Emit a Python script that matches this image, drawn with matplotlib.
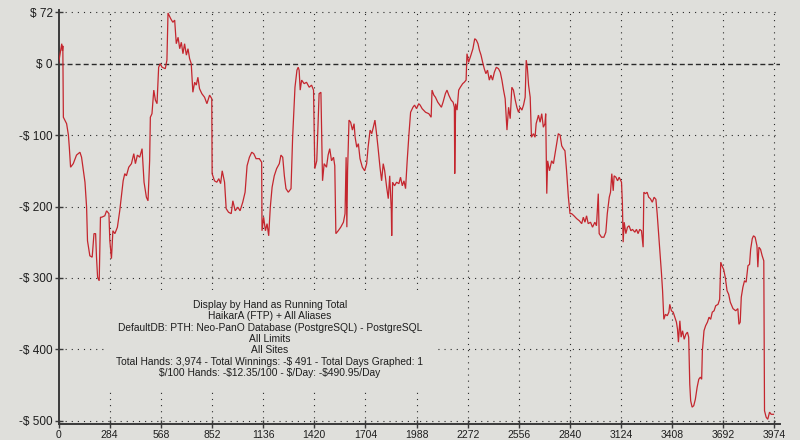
import matplotlib
matplotlib.use("Agg")
import matplotlib.pyplot as plt
from matplotlib.patches import Rectangle

# ---- data ----
hands = [0, 18, 22, 24, 27, 45, 55, 60, 67, 82, 100, 119, 128, 147, 156, 161, 174, 187, 197, 206,
         211, 217, 226, 233, 240, 257, 267, 280, 285, 294, 302, 313, 327, 340, 359, 368, 377, 390, 405, 418,
         427, 438, 451, 464, 475, 488, 497, 506, 510, 519, 529, 538, 547, 556, 565, 575, 593, 602, 608, 623,
         635, 645, 654, 664, 673, 682, 691, 700, 710, 719, 728, 737, 746, 756, 765, 774, 783, 796, 811, 824,
         839, 851, 853, 866, 879, 890, 900, 909, 922, 931, 944, 959, 968, 981, 996, 1008, 1023, 1036, 1047, 1060,
         1073, 1084, 1097, 1115, 1128, 1130, 1139, 1149, 1158, 1167, 1176, 1186, 1198, 1211, 1226, 1235, 1245, 1254, 1263, 1276,
         1291, 1300, 1313, 1324, 1331, 1336, 1342, 1350, 1364, 1377, 1392, 1405, 1416, 1423, 1434, 1447, 1457, 1466, 1475, 1488,
         1497, 1506, 1516, 1527, 1534, 1540, 1553, 1567, 1582, 1591, 1597, 1601, 1605, 1613, 1622, 1632, 1641, 1647, 1656, 1665,
         1674, 1687, 1700, 1711, 1719, 1730, 1739, 1748, 1757, 1765, 1774, 1785, 1794, 1803, 1811, 1822, 1831, 1839, 1848, 1850,
         1855, 1866, 1877, 1890, 1899, 1909, 1918, 1927, 1936, 1946, 1955, 1968, 1977, 1988, 2000, 2008, 2019, 2038, 2056, 2069,
         2074, 2084, 2093, 2106, 2117, 2126, 2135, 2148, 2157, 2167, 2180, 2191, 2198, 2200, 2205, 2213, 2222, 2231, 2244, 2253,
         2263, 2268, 2277, 2290, 2301, 2311, 2320, 2329, 2337, 2346, 2355, 2364, 2373, 2382, 2392, 2401, 2410, 2420, 2431, 2443,
         2453, 2462, 2471, 2480, 2490, 2499, 2508, 2517, 2526, 2536, 2545, 2554, 2563, 2573, 2582, 2591, 2597, 2603, 2610, 2619,
         2626, 2637, 2646, 2652, 2665, 2674, 2683, 2692, 2701, 2705, 2711, 2716, 2726, 2738, 2748, 2757, 2766, 2775, 2785, 2794,
         2803, 2812, 2821, 2831, 2840, 2849, 2862, 2877, 2892, 2905, 2914, 2923, 2932, 2941, 2954, 2965, 2978, 2987, 2997, 3002,
         3015, 3028, 3039, 3047, 3058, 3065, 3072, 3080, 3085, 3095, 3104, 3113, 3126, 3131, 3135, 3141, 3150, 3159, 3168, 3178,
         3187, 3200, 3209, 3218, 3227, 3237, 3246, 3250, 3259, 3268, 3277, 3286, 3297, 3307, 3317, 3324, 3335, 3348, 3354, 3361,
         3370, 3380, 3389, 3394, 3403, 3413, 3422, 3431, 3437, 3442, 3450, 3457, 3465, 3474, 3483, 3492, 3499, 3505, 3510, 3518,
         3527, 3536, 3546, 3555, 3564, 3571, 3575, 3584, 3593, 3603, 3612, 3621, 3630, 3640, 3649, 3662, 3671, 3677, 3684, 3693,
         3702, 3712, 3721, 3730, 3745, 3760, 3772, 3778, 3785, 3791, 3800, 3809, 3818, 3828, 3837, 3843, 3852, 3859, 3868, 3878,
         3883, 3889, 3898, 3907, 3916, 3920, 3929, 3938, 3948, 3957, 3970]
totals = [0, 28, 18, 25, -75, -84, -100, -117, -145, -140, -128, -124, -131, -166, -201, -248, -269, -271, -238, -238,
          -271, -299, -304, -215, -215, -213, -206, -210, -248, -273, -234, -238, -229, -206, -164, -154, -157, -145, -140, -126,
          -140, -128, -131, -119, -166, -187, -192, -136, -75, -70, -37, -51, -56, -5, 0, -5, -7, 5, 71, 63,
          58, 61, 28, 37, 21, 30, 14, 28, 12, 21, 7, 0, -40, -26, -30, -19, -35, -42, -47, -56,
          -44, -49, -154, -164, -166, -161, -168, -150, -166, -203, -208, -210, -192, -206, -201, -206, -194, -180, -143, -131,
          -124, -126, -133, -133, -138, -234, -215, -234, -224, -241, -201, -173, -157, -147, -140, -128, -131, -157, -175, -180,
          -175, -103, -33, -9, -5, -9, -37, -23, -28, -26, -33, -30, -37, -147, -136, -42, -40, -164, -140, -145,
          -128, -119, -136, -131, -143, -238, -234, -229, -222, -210, -131, -229, -150, -79, -82, -93, -84, -103, -117, -112,
          -133, -145, -150, -140, -117, -93, -98, -89, -79, -96, -117, -145, -164, -140, -150, -173, -189, -157, -206, -241,
          -166, -171, -166, -168, -159, -171, -164, -175, -136, -98, -68, -61, -58, -63, -56, -58, -63, -68, -70, -75,
          -37, -44, -47, -54, -58, -61, -54, -42, -37, -44, -51, -54, -61, -154, -56, -65, -37, -33, -28, -26,
          -23, 14, 2, 12, 21, 35, 33, 28, 19, 12, 2, -7, -14, -9, -23, -16, -23, -12, -5, -7,
          -12, -23, -37, -49, -93, -61, -77, -33, -37, -51, -61, -68, -61, -65, -58, -47, 5, -5, -30, -47,
          -103, -98, -103, -84, -72, -82, -70, -89, -84, -70, -182, -136, -150, -136, -140, -126, -112, -98, -100, -115,
          -119, -122, -150, -187, -210, -210, -213, -217, -220, -224, -215, -222, -213, -224, -222, -229, -222, -227, -182, -238,
          -243, -243, -236, -210, -187, -180, -154, -178, -157, -159, -164, -159, -166, -196, -250, -222, -238, -229, -227, -234,
          -232, -236, -232, -238, -232, -234, -257, -180, -182, -180, -187, -189, -194, -187, -190, -210, -248, -294, -318, -358,
          -351, -353, -348, -337, -346, -348, -355, -362, -372, -390, -360, -383, -374, -386, -379, -376, -383, -449, -472, -481,
          -479, -470, -453, -442, -439, -442, -402, -374, -367, -362, -355, -358, -348, -346, -339, -337, -330, -278, -283, -288,
          -299, -318, -323, -334, -343, -346, -343, -365, -362, -327, -313, -304, -306, -283, -281, -260, -245, -241, -243, -255,
          -285, -257, -260, -269, -276, -486, -495, -498, -488, -491, -491]

x_ticks = [0, 284, 568, 852, 1136, 1420, 1704, 1988, 2272, 2556, 2840, 3124, 3408, 3692, 3974]
x_tick_labels = [str(v) for v in x_ticks]
y_ticks = [72, 0, -100, -200, -300, -400, -500]
y_tick_labels = ["$ 72", "$ 0", "-$ 100", "-$ 200", "-$ 300", "-$ 400", "-$ 500"]

info_lines = [
    "Display by Hand as Running Total",
    "HaikarA (FTP) + All Aliases",
    "DefaultDB: PTH: Neo-PanO Database (PostgreSQL) - PostgreSQL",
    "All Limits",
    "All Sites",
    "Total Hands: 3,974 - Total Winnings: -$ 491 - Total Days Graphed: 1",
    "$/100 Hands: -$12.35/100 - $/Day: -$490.95/Day",
]

# ---- styling ----
bg = "#dfdfdb"
line_color = "#c4262e"
axis_color = "#3a3a3a"
grid_color = "#2a2a2a"

plt.rcParams["text.parse_math"] = False
plt.rcParams["font.family"] = ["Liberation Sans", "DejaVu Sans"]

W, H = 800, 440
fig = plt.figure(figsize=(W / 100, H / 100), dpi=100, facecolor=bg)
L, R, T, B = 58.5, 780, 10, 424
ax = fig.add_axes([L / W, (H - B) / H, (R - L) / W, (B - T) / H])
ax.set_facecolor(bg)

ax.plot(hands, totals, color=line_color, lw=0.9, zorder=4, solid_joinstyle="miter")

ax.set_xlim(0, 4006)
ax.set_ylim(-504.6, 75.2)

# grid
for y in y_ticks:
    if y == 0:
        ax.axhline(y, color=grid_color, lw=1.0, ls=(0, (3.6, 2.2)), zorder=1)
    else:
        ax.axhline(y, color=grid_color, lw=0.8, ls=(0, (1, 4.5)), zorder=1)
for x in x_ticks[1:]:
    ax.axvline(x, color=grid_color, lw=0.8, ls=(0, (1, 4.5)), zorder=1)

# info box hiding the grid behind the text
ax.add_patch(Rectangle((0.0686, 0.077), 0.4534, 0.247, transform=ax.transAxes,
                       facecolor=bg, edgecolor="none", zorder=2))
y0 = 305.0
dy = 11.35
for i, s in enumerate(info_lines):
    ypix = y0 + i * dy
    ax.text(0.2931, (B - ypix) / (B - T), s, transform=ax.transAxes,
            ha="center", va="center", fontsize=7.35, color="#1e1e1e", zorder=5,
            parse_math=False)

ax.set_xticks(x_ticks)
ax.set_xticklabels(x_tick_labels)
ax.set_yticks(y_ticks)
ax.set_yticklabels(y_tick_labels)
ax.tick_params(axis="both", direction="inout", length=6, width=1, color=axis_color,
               labelcolor="#1e1e1e", labelsize=8.5, pad=1)
ax.tick_params(axis="x", labelsize=7.5)

for side in ("top", "right"):
    ax.spines[side].set_visible(False)
for side in ("left", "bottom"):
    ax.spines[side].set_color(axis_color)
    ax.spines[side].set_linewidth(1.4)

fig.savefig("out.png", dpi=100, facecolor=bg)
